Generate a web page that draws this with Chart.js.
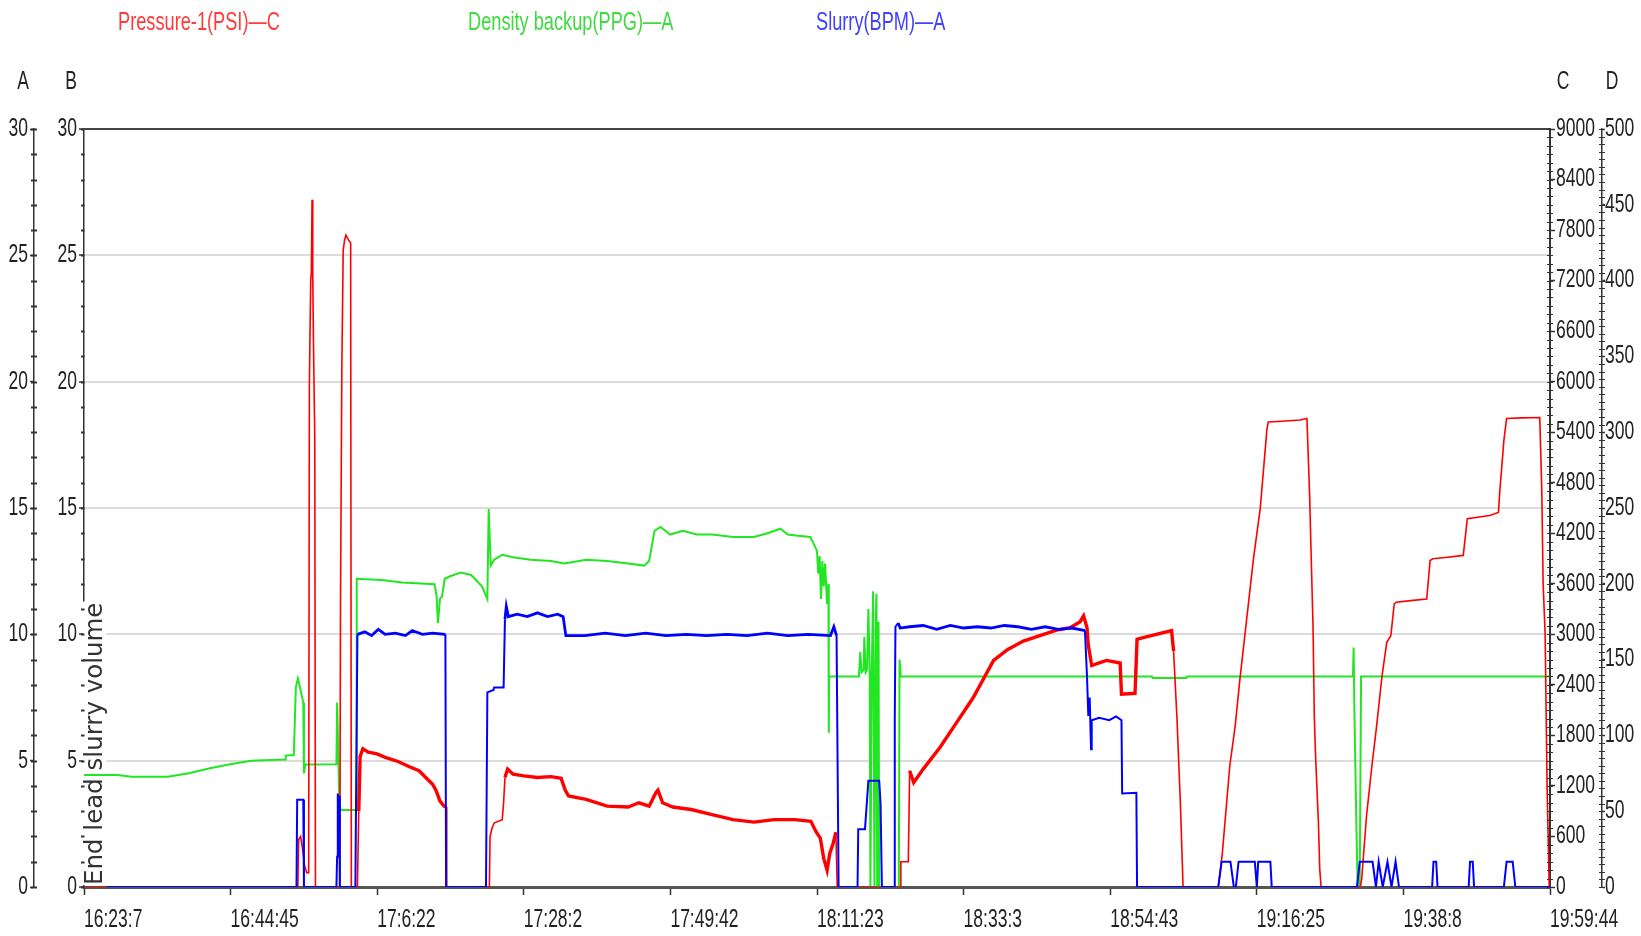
<!DOCTYPE html>
<html><head><meta charset="utf-8">
<script src="https://cdn.jsdelivr.net/npm/chart.js@4.4.1/dist/chart.umd.min.js"></script>
<style>html,body{margin:0;padding:0;background:#fff;overflow:hidden}#wrap{position:relative;width:1641px;height:936px}</style>
</head><body><div id="wrap"><canvas id="c" width="1641" height="936"></canvas></div>
<script>
// ---- data (x = minutes after 16:23:07) ----
const timeLabels = ['16:23:7','16:44:45','17:6:22','17:28:2','17:49:42','18:11:23','18:33:3','18:54:43','19:16:25','19:38:8','19:59:44'];
const totalMinutes = 216.617;
const seriesNames = ['Pressure-1(PSI)—C','Density backup(PPG)—A','Slurry(BPM)—A'];
const axisLetters = ['A','B','C','D'];
const annotationText = 'End lead slurry volume';

const pressure = [
[0,0],[31.6,0],[31.7,560],[32.0,600],[32.3,450],[32.6,250],[32.9,170],[33.2,170],[33.3,5970],[33.5,7200],[33.6,7300],[33.7,8160],[33.8,7290],[33.9,6510],[34.1,5340],[34.2,0],
[37.8,0],[37.9,3360],[38.1,6180],[38.3,7560],[38.5,7680],[38.7,7740],[39.1,7680],[39.4,7650],[39.5,0],
[40.4,0],[40.6,900],[40.8,1550],[41.2,1640],[42,1600],[43.3,1580],[44.5,1540],[46.4,1490],[48,1430],[49.5,1380],[50.5,1300],[51.5,1220],[52,1150],[52.6,1020],[53.2,960],[53.5,950],[53.6,0],
[59.9,0],[60.0,600],[60.3,700],[60.6,760],[61.8,800],[62.0,1000],[62.2,1300],[62.6,1400],[63.4,1340],[65,1320],[67,1300],[69,1310],[70.5,1290],[71.1,1150],[71.6,1080],[74.2,1040],[77.3,960],[80.4,950],[82,1000],[83.5,960],[84.5,1120],[84.8,1150],[85.5,1000],[87,950],[89.7,920],[92.8,860],[95.9,800],[99,770],[102,800],[105,800],[107.4,780],[108.2,650],[108.8,580],[109.3,340],[109.8,200],[110.2,400],[110.7,520],[111.1,650],[111.3,0],
[120.6,0],[120.7,300],[121.8,300],[122.0,1380],[122.6,1240],[124,1400],[126.5,1660],[129,1960],[131.4,2250],[134.4,2690],[136.5,2820],[138.8,2920],[141,2980],[143.7,3050],[145.7,3080],[147.2,3150],[147.7,3220],[148.2,3080],[148.4,2870],[148.9,2630],[150,2660],[151.1,2690],[153.1,2660],[153.3,2290],[155.3,2300],[155.6,2940],[156.5,2960],[160.7,3045],[161.0,2800],[161.5,2000],[162.0,1000],[162.4,0],
[167.6,0],[168.2,400],[169.3,1437],[170.1,1913],[170.8,2469],[172.8,3897],[173.8,4492],[174.8,5445],[175.0,5521],[177,5530],[179.7,5544],[180.7,5562],[181.1,4650],[181.3,4016],[181.6,3100],[181.8,1992],[182.0,1515],[182.4,762],[182.6,200],[182.8,0],
[188.6,0],[188.8,100],[189.5,840],[190.3,1437],[191.0,1913],[191.8,2508],[192.5,2905],[193.1,2984],[193.6,3361],[193.9,3381],[196,3400],[198.4,3420],[198.9,3877],[199.3,3897],[201.5,3915],[203.8,3937],[204.4,4374],[207.7,4410],[209.0,4448],[209.2,4700],[209.8,5300],[210.2,5562],[212.5,5570],[215.1,5574],[215.4,4726],[215.6,3612],[215.9,2993],[216.2,1136],[216.5,0]
];

const density = [
[0,4.43],[5,4.43],[7,4.36],[12.4,4.36],[15.5,4.5],[18.6,4.7],[22,4.88],[24.7,5.0],[29.7,5.05],[29.8,5.2],[31.0,5.22],[31.3,7.9],[31.6,8.25],[32.0,7.8],[32.4,7.3],[32.5,4.5],[32.7,4.85],[37.3,4.86],[37.4,7.3],[37.6,5.0],[37.7,3.6],[37.9,3.05],[40.2,3.05],
[40.3,12.2],[44,12.15],[47,12.05],[51.8,11.98],[52.1,11.5],[52.3,10.45],[52.6,11.4],[52.9,11.5],[53.3,12.2],[54.1,12.3],[55.7,12.45],[57.2,12.35],[58.8,11.9],[59.6,11.4],[59.8,14.96],[60.1,12.72],[60.6,12.95],[61.8,13.15],[63.4,13.05],[66,12.95],[69,12.9],[71,12.8],[74.2,12.95],[77.3,12.9],[80.4,12.8],[82.8,12.72],[83.5,12.9],[84.3,14.1],[85.2,14.25],[86.6,13.95],[88.5,14.1],[90.5,13.95],[92.8,13.95],[95.9,13.85],[99,13.85],[101,14.0],[102.9,14.18],[104,13.95],[105.5,13.9],[107.3,13.85],[107.8,13.6],[108.3,13.3],[108.5,12.4],[108.7,13.1],[108.9,11.4],[109.1,12.9],[109.3,11.9],[109.5,12.8],[109.8,11.2],[110.0,12.0],[110.05,6.1],[110.1,8.33],
[114.5,8.33],[114.7,9.3],[114.9,8.5],[115.2,8.6],[115.3,9.9],[115.5,8.5],[115.7,8.6],[115.9,11.0],[116.1,8.5],[116.2,0],[116.4,8.5],[116.6,11.7],[116.8,0],[117.0,10.8],[117.1,11.6],[117.2,0],[117.4,10.5],[117.5,0],[120.4,0],[120.5,9.0],[120.7,8.33],
[157.8,8.33],[157.9,8.27],[162.9,8.27],[163.0,8.33],[187.5,8.33],[187.6,9.48],[187.7,7.17],[188.0,2.54],[188.2,0],[188.5,0],[188.7,8.33],[216.6,8.33]
];

const slurry = [
[3.3,0],[31.4,0],[31.5,3.45],[32.4,3.45],[32.5,0],
[37.3,0],[37.4,1.2],[37.5,3.7],[37.6,3.4],[37.7,3.6],[37.8,0],
[40.1,0],[40.3,6.8],[40.4,10.0],[41.5,10.1],[42.5,9.95],[43.5,10.2],[44.5,10.0],[46,10.05],[47.5,9.95],[48.5,10.15],[50,10.0],[51.5,10.05],[53.4,10.0],[53.5,0],
[59.4,0],[59.6,7.7],[60.5,7.8],[60.6,7.9],[62.0,7.9],[62.2,10.6],[62.4,11.1],[62.7,10.7],[64,10.8],[65.5,10.7],[67,10.85],[68.5,10.7],[70,10.8],[70.8,10.7],[71.2,9.95],[74,9.95],[77,10.05],[80,9.95],[83,10.05],[86,9.95],[89,10.0],[92,9.95],[95,10.0],[98,9.95],[101,10.05],[104,9.95],[107,10.0],[110.3,9.95],[110.8,10.3],[111.2,9.95],[111.5,0],
[114.3,0],[114.4,2.29],[115.4,2.29],[115.9,4.21],[117.5,4.21],[117.7,3.3],[117.9,0],
[119.7,0],[119.8,6.6],[119.9,10.3],[120.3,10.45],[120.6,10.25],[122,10.3],[124,10.35],[126,10.2],[128,10.35],[130,10.25],[132,10.3],[134,10.25],[136,10.35],[138,10.3],[140,10.2],[142,10.3],[144,10.2],[146,10.25],[147.9,10.15],[148.2,8.36],[148.4,6.77],[148.6,7.5],[148.8,5.45],[148.9,6.6],[150,6.7],[151.5,6.6],[152.5,6.75],[153.3,6.6],[153.4,3.7],[155.5,3.73],[155.6,0],
[167.6,0],[168.1,1.0],[169.4,1.0],[169.9,0],[170.2,0],[170.6,1.0],[173.0,1.0],[173.3,0],[173.5,1.0],[175.3,1.0],[175.5,0],
[188.1,0],[188.5,1.0],[190.4,1.0],[190.9,0],[191.3,1.0],[191.9,0],[192.6,1.0],[193.2,0],[193.8,1.0],[194.3,0],
[199.2,0],[199.4,1.0],[199.8,1.0],[200.0,0],[204.6,0],[204.8,1.0],[205.2,1.0],[205.4,0],[209.8,0],[210.2,1.0],[211.1,1.0],[211.5,0],[216.6,0]
];

// ---- styling ----
const FONT = '"Liberation Sans",Arial,sans-serif';
const TXT = '#222';
const SQUEEZE = 0.7;               // condensed look of the original lettering
const redNoisy = [[40.6,53.5],[62.2,111.1],[122,161]];
const blueNoisy = [[40.4,53.4],[62.2,111.2],[120,148]];
const inRanges = (c, ranges) => ranges.some(([a,b]) => c.p0.parsed.x >= a && c.p1.parsed.x <= b);
const toXY = arr => arr.map(([t,v]) => ({x:t, y:v}));

const canvas = document.getElementById('c');
const ctx2d = canvas.getContext('2d');
const nativeFill = ctx2d.fillText.bind(ctx2d);
let squeeze = SQUEEZE;
ctx2d.fillText = function (t, x, y, mw) {
  if (squeeze === 1) { return mw === undefined ? nativeFill(t, x, y) : nativeFill(t, x, y, mw); }
  this.save();
  this.translate(x, y);
  this.scale(squeeze, 1);
  if (mw === undefined) nativeFill(t, 0, 0); else nativeFill(t, 0, 0, mw / squeeze);
  this.restore();
};

const decor = {
  id: 'decor',
  beforeDatasetsDraw(chart) {
    const {ctx, chartArea} = chart;
    const yTop = chart.scales.A.getPixelForValue(11.3);
    ctx.save();
    ctx.fillStyle = '#fff';
    ctx.fillRect(chartArea.left - 1, yTop, 23, chartArea.bottom - yTop - 2);
    ctx.restore();
  },
  afterDatasetsDraw(chart) {
    const {ctx, chartArea} = chart;
    ctx.save();
    squeeze = 1;
    ctx.translate(chartArea.left + 12, chartArea.bottom - 2);
    ctx.rotate(-Math.PI / 2);
    ctx.font = '24.5px "DejaVu Sans", sans-serif';
    ctx.fillStyle = '#333';
    ctx.textAlign = 'left';
    ctx.textBaseline = 'middle';
    ctx.fillText(annotationText, 0, 0);
    squeeze = SQUEEZE;
    ctx.restore();
  },
  afterDraw(chart) {
    const {ctx} = chart;
    const s = chart.scales;
    ctx.save();
    ctx.strokeStyle = '#333';
    const minor = (scale, step, x1, x2, w) => {
      ctx.lineWidth = w;
      ctx.beginPath();
      for (let v = scale.min; v <= scale.max + 1e-9; v += step) {
        const y = Math.round(scale.getPixelForValue(v)) + 0.5;
        ctx.moveTo(x1, y); ctx.lineTo(x2, y);
      }
      ctx.stroke();
    };
    minor(s.A, 1, s.A.right - 3, s.A.right + 3, 2);
    minor(s.B, 1, s.B.right - 3, s.B.right + 0.5, 2);
    minor(s.C, 100, s.C.left - 3, s.C.left + 3, 1);
    minor(s.D, 5, s.D.left - 3, s.D.left + 3, 1);

    // legend
    ctx.font = '26px ' + FONT;
    ctx.textBaseline = 'middle';
    ctx.textAlign = 'left';
    const legendX = [118, 468, 816];
    const legendC = ['#ff3a3a', '#3ddc3d', '#4040ff'];
    seriesNames.forEach((n, i) => { ctx.fillStyle = legendC[i]; ctx.fillText(n, legendX[i], 23); });

    // axis letters
    ctx.font = '25px ' + FONT;
    ctx.fillStyle = TXT;
    ctx.textAlign = 'center';
    const letterX = [23, 71, 1563, 1612];
    axisLetters.forEach((l, i) => ctx.fillText(l, letterX[i], 82));
    ctx.restore();
  }
};

const tickFont = {family: FONT, size: 25};
const plain = v => String(v);

new Chart(canvas, {
  type: 'line',
  data: {
    datasets: [
      {label: seriesNames[2], data: toXY(slurry), yAxisID: 'A', borderColor: '#0000ff', borderWidth: 2, order: 0,
       segment: {borderWidth: c => inRanges(c, blueNoisy) ? 2.8 : 2}},
      {label: seriesNames[0], data: toXY(pressure), yAxisID: 'C', borderColor: '#ff0000', borderWidth: 1.6, order: 1,
       segment: {borderWidth: c => inRanges(c, redNoisy) ? 3.4 : 1.6}},
      {label: seriesNames[1], data: toXY(density), yAxisID: 'A', borderColor: '#22e622', borderWidth: 2, order: 2}
    ]
  },
  options: {
    responsive: false,
    animation: false,
    elements: {point: {radius: 0, hoverRadius: 0}, line: {tension: 0}},
    plugins: {legend: {display: false}, tooltip: {enabled: false}},
    layout: {padding: {top: 129, left: 0, right: 0, bottom: 0}},
    scales: {
      x: {
        type: 'linear', position: 'bottom', min: 0, max: totalMinutes,
        afterBuildTicks: sc => { sc.ticks = timeLabels.map((_, i) => ({value: i * totalMinutes / (timeLabels.length - 1)})); },
        ticks: {autoSkip: false, maxRotation: 0, minRotation: 0, align: 'start', padding: 10, color: TXT, font: tickFont,
                callback: (v, i) => timeLabels[i]},
        grid: {drawOnChartArea: false, drawTicks: true, tickLength: 8, tickColor: '#333', tickWidth: 1.5},
        border: {display: true, color: '#555', width: 3},
        afterFit: sc => { sc.height = 49; sc.paddingLeft = 0; sc.paddingRight = 0; }
      },
      A: {
        type: 'linear', position: 'left', weight: 1, min: 0, max: 30,
        ticks: {stepSize: 5, padding: 2, color: TXT, font: tickFont, callback: plain},
        grid: {drawOnChartArea: false, tickLength: 4, tickColor: '#333', tickWidth: 1.5},
        border: {display: true, color: '#333', width: 1.5},
        afterFit: sc => { sc.width = 34; }
      },
      B: {
        type: 'linear', position: 'left', weight: 0, min: 0, max: 30,
        ticks: {stepSize: 5, padding: 2, color: TXT, font: tickFont, callback: plain},
        grid: {drawOnChartArea: true, tickLength: 5, tickColor: '#333', tickWidth: 1.5,
               color: c => c.tick.value === 30 ? '#444' : (c.tick.value === 0 ? 'rgba(0,0,0,0)' : '#dcdcdc'),
               lineWidth: 2},
        border: {display: true, color: '#333', width: 1.5},
        afterFit: sc => { sc.width = 50; }
      },
      C: {
        type: 'linear', position: 'right', weight: 0, min: 0, max: 9000,
        ticks: {stepSize: 600, padding: 1, color: TXT, font: tickFont, callback: plain},
        grid: {drawOnChartArea: false, tickLength: 5, tickColor: '#333', tickWidth: 1.5},
        border: {display: true, color: '#333', width: 2},
        afterFit: sc => { sc.width = 52; }
      },
      D: {
        type: 'linear', position: 'right', weight: 1, min: 0, max: 500,
        ticks: {stepSize: 50, padding: 0, color: TXT, font: tickFont, callback: plain},
        grid: {drawOnChartArea: false, tickLength: 3, tickColor: '#333', tickWidth: 1.5},
        border: {display: true, color: '#333', width: 1.5},
        afterFit: sc => { sc.width = 39; }
      }
    }
  },
  plugins: [decor]
});
</script></body></html>
